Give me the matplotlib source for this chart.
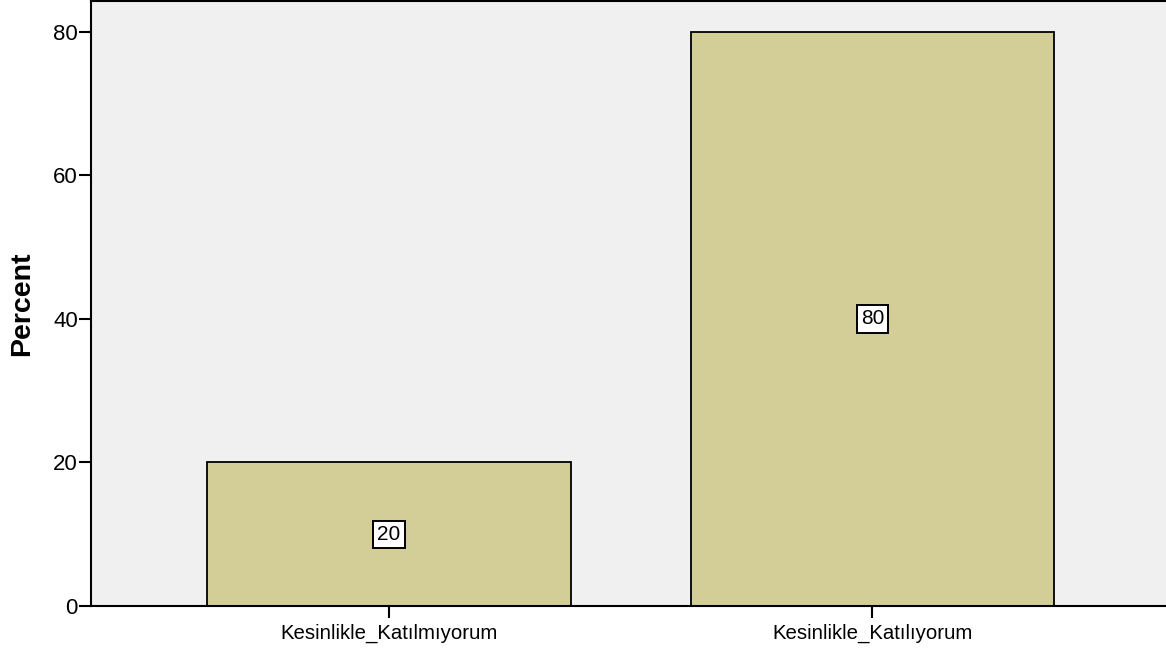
import matplotlib
matplotlib.use('Agg')
import matplotlib.pyplot as plt

# data
categories = ['Kesinlikle_Katılmıyorum', 'Kesinlikle_Katılıyorum']
percent = [20, 80]
yticks = [0, 20, 40, 60, 80]

plt.rcParams['font.family'] = ['Liberation Sans', 'DejaVu Sans']

fig = plt.figure(figsize=(11.66, 6.53), dpi=100)
ax = fig.add_axes([0.078, 0.072, 0.922, 0.926])
ax.set_facecolor('#F0F0F0')

x = range(len(categories))
bars = ax.bar(x, percent, width=0.752, color='#D3CE98',
              edgecolor='black', linewidth=1.3, zorder=2)

for b, v in zip(bars, percent):
    ax.text(b.get_x() + b.get_width() / 2, v / 2, f'{v}', ha='center', va='center',
            fontsize=15, zorder=3,
            bbox=dict(boxstyle='square,pad=0.2', facecolor='white',
                      edgecolor='black', linewidth=1.4))

ax.set_xlim(-0.616, 1.607)
ax.set_ylim(0, 84.25)
ax.set_xticks(list(x))
ax.set_xticklabels(categories, fontsize=14.7)
ax.set_yticks(yticks)
ax.tick_params(axis='y', labelsize=16, length=8.5, width=1.5, pad=1)
ax.tick_params(axis='x', length=8.5, width=1.5, pad=4)
ax.set_ylabel('Percent', fontsize=20.5, fontweight='bold', labelpad=13)

for s in ['left', 'bottom', 'top']:
    ax.spines[s].set_linewidth(1.5)
ax.spines['right'].set_visible(False)

fig.savefig('out.png', dpi=100)
